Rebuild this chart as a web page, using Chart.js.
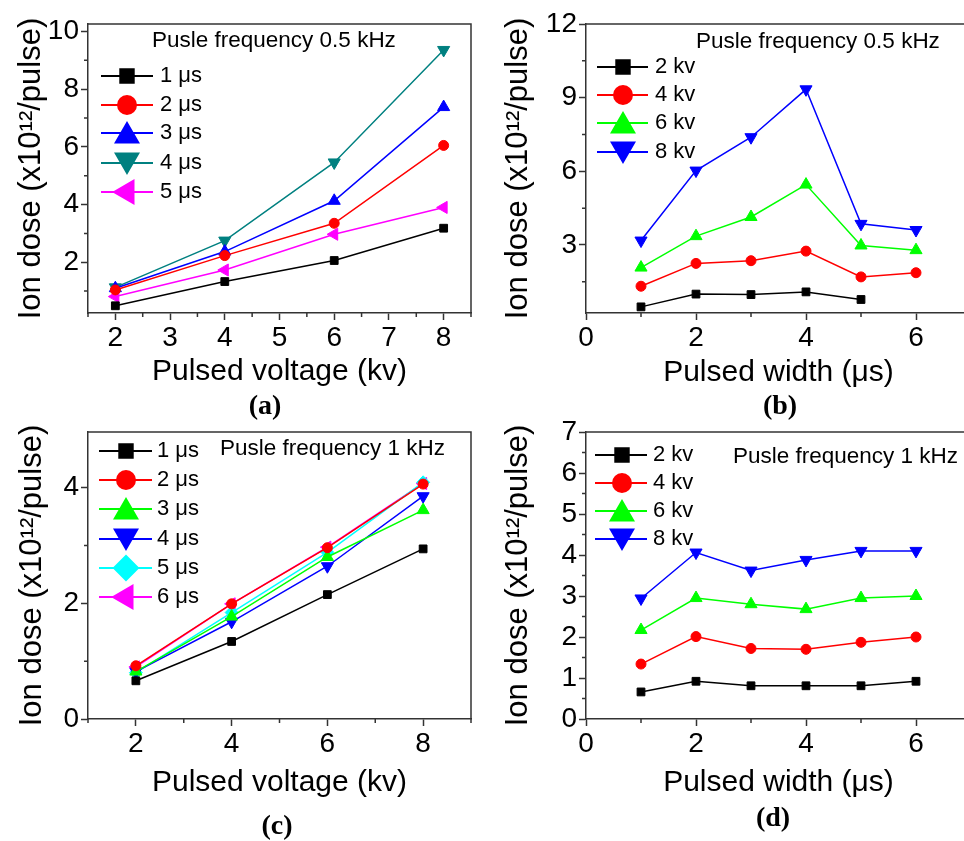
<!DOCTYPE html>
<html>
<head>
<meta charset="utf-8">
<script src="https://cdn.jsdelivr.net/npm/chart.js@4.4.1/dist/chart.umd.min.js"></script>
<style>
    html, body { margin: 0; padding: 0; background: #fff; overflow: hidden; width: 964px; height: 841px; }
    .wrap { position: absolute; left: 0; top: 0; width: 964px; height: 841px; overflow: hidden; }
    canvas { position: absolute; }
    .tag { position: absolute; font: bold 28px "Liberation Serif", "Times New Roman", serif; transform: translate(-50%, -50%); color: #000; }
</style>
</head>
<body>
<div class="wrap">
<canvas id="pa" width="480" height="420" style="left:0;top:0"></canvas>
<canvas id="pb" width="500" height="420" style="left:480px;top:0"></canvas>
<canvas id="pc" width="480" height="421" style="left:0;top:420px"></canvas>
<canvas id="pd" width="500" height="421" style="left:480px;top:420px"></canvas>
<div class="tag" style="left:265px;top:405px">(a)</div>
<div class="tag" style="left:780px;top:405px">(b)</div>
<div class="tag" style="left:277px;top:825px">(c)</div>
<div class="tag" style="left:773px;top:817px">(d)</div>
</div>
<script>
// x values
const voltage = [2, 4, 6, 8];
const pulseWidth = [1, 2, 3, 4, 5, 6];

// (a) 0.5 kHz, dose vs voltage
const a1us = [0.49, 1.33, 2.06, 3.18];
const a2us = [1.04, 2.23, 3.35, 6.05];
const a3us = [1.10, 2.37, 4.13, 7.38];
const a4us = [1.13, 2.75, 5.46, 9.36];
const a5us = [0.81, 1.73, 2.97, 3.90];

// (b) 0.5 kHz, dose vs width
const b2kv = [0.48, 1.00, 0.98, 1.09, 0.78, null];
const b4kv = [1.32, 2.25, 2.36, 2.75, 1.70, 1.87];
const b6kv = [2.08, 3.36, 4.14, 5.46, 2.98, 2.79];
const b8kv = [3.18, 6.03, 7.39, 9.34, 3.86, 3.61];

// (c) 1 kHz, dose vs voltage
const c1us = [0.66, 1.34, 2.15, 2.94];
const c2us = [0.92, 1.99, 2.96, 4.06];
const c3us = [0.82, 1.77, 2.80, 3.61];
const c4us = [0.82, 1.68, 2.64, 3.85];
const c5us = [0.80, 1.84, 2.88, 4.09];
const c6us = [0.90, 1.99, 2.97, 4.07];

// (d) 1 kHz, dose vs width
const d2kv = [0.66, 0.92, 0.81, 0.81, 0.81, 0.92];
const d4kv = [1.34, 2.01, 1.72, 1.70, 1.87, 2.00];
const d6kv = [2.17, 2.95, 2.80, 2.68, 2.95, 3.00];
const d8kv = [2.94, 4.06, 3.62, 3.88, 4.10, 4.10];

// ticks
const aXTicks = [2, 3, 4, 5, 6, 7, 8];
const aXMinor = [1.5, 2.5, 3.5, 4.5, 5.5, 6.5, 7.5, 8.5];
const aYTicks = [2, 4, 6, 8, 10];
const aYMinor = [1, 3, 5, 7, 9];
const bXTicks = [0, 2, 4, 6];
const bXMinor = [1, 3, 5];
const bYTicks = [3, 6, 9, 12];
const bYMinor = [1.5, 4.5, 7.5, 10.5];
const cXTicks = [2, 4, 6, 8];
const cXMinor = [1, 3, 5, 7, 9];
const cYTicks = [0, 2, 4];
const cYMinor = [1, 3, 5];
const dXTicks = [0, 2, 4, 6];
const dXMinor = [1, 3, 5];
const dYTicks = [0, 1, 2, 3, 4, 5, 6, 7];
const dYMinor = [0.5, 1.5, 2.5, 3.5, 4.5, 5.5, 6.5];

const FONT = '"Liberation Sans", Arial, sans-serif';
const yTitle = 'Ion dose (x10\u00B9\u00B2/pulse)';

// marker styles
const SQ = { style: 'rect', rot: 0, r: 5.5, lr: 9.5 };
const CI = { style: 'circle', rot: 0, r: 5, lr: 9 };
const TU = { style: 'triangle', rot: 0, r: 7, lr: 13 };
const TD = { style: 'triangle', rot: 180, r: 7, lr: 13 };
const DI = { style: 'rectRot', rot: 0, r: 6.5, lr: 12 };
const TL = { style: 'triangle', rot: -90, r: 7, lr: 13 };

function toPoints(xs, ys) {
    return xs.map((x, i) => ({ x: x, y: ys[i] }));
}

// frame, minor ticks, legend and frequency label
const decor = {
    id: 'decor',
    afterDraw(chart, args, opts) {
        const ctx = chart.ctx;
        const area = chart.chartArea;
        const xs = chart.scales.x, ys = chart.scales.y;
        ctx.save();
        ctx.strokeStyle = '#333';
        ctx.lineWidth = 1.5;
        ctx.beginPath();
        ctx.moveTo(area.left, area.top);
        ctx.lineTo(area.right, area.top);
        if (opts.rightEdge) {
            ctx.lineTo(area.right, area.bottom);
        }
        ctx.stroke();
        ctx.beginPath();
        opts.xMinor.forEach(v => {
            const px = xs.getPixelForValue(v);
            ctx.moveTo(px, area.bottom);
            ctx.lineTo(px, area.bottom + 4);
        });
        opts.yMinor.forEach(v => {
            const py = ys.getPixelForValue(v);
            if (py < area.top - 1) return;
            ctx.moveTo(area.left, py);
            ctx.lineTo(area.left - 4, py);
        });
        ctx.stroke();

        const lg = opts.legend;
        chart.data.datasets.forEach((ds, i) => {
            const y = lg.rows[i];
            ctx.strokeStyle = ds.borderColor;
            ctx.fillStyle = ds.borderColor;
            ctx.lineWidth = 2;
            ctx.beginPath();
            ctx.moveTo(lg.x0, y);
            ctx.lineTo(lg.x1, y);
            ctx.stroke();
            let dy = 0;
            if (ds.pointStyle === 'triangle' && ds.pointRotation === 0) dy = 3;
            if (ds.pointStyle === 'triangle' && ds.pointRotation === 180) dy = -3;
            Chart.helpers.drawPoint(ctx, {
                pointStyle: ds.pointStyle, radius: ds.legendRadius,
                rotation: ds.pointRotation, borderWidth: 1
            }, lg.xm, y + dy);
            ctx.fillStyle = '#000';
            ctx.font = '22px ' + FONT;
            ctx.textBaseline = 'middle';
            ctx.textAlign = 'left';
            ctx.fillText(ds.label, lg.xt, y);
        });
        ctx.font = '22.5px ' + FONT;
        ctx.fillStyle = '#000';
        ctx.textBaseline = 'middle';
        ctx.fillText(opts.freq.text, opts.freq.x, opts.freq.y);
        ctx.restore();
    }
};

function makePanel(id, p) {
    const datasets = p.series.map(s => ({
        label: s.label,
        data: toPoints(p.xs, s.data),
        borderColor: s.color,
        backgroundColor: s.color,
        borderWidth: 1.5,
        pointStyle: s.m.style,
        pointRotation: s.m.rot,
        pointRadius: s.m.r,
        pointBackgroundColor: s.color,
        pointBorderColor: s.color,
        pointBorderWidth: 1,
        legendRadius: s.m.lr,
        tension: 0
    }));

    new Chart(document.getElementById(id), {
        type: 'line',
        data: { datasets: datasets },
        options: {
            responsive: false,
            animation: false,
            layout: { padding: { top: p.padTop, right: 9, left: 0, bottom: 0 } },
            plugins: {
                legend: { display: false },
                tooltip: { enabled: false },
                decor: { xMinor: p.xMinor, yMinor: p.yMinor, legend: p.legend, freq: p.freq, rightEdge: p.rightEdge }
            },
            scales: {
                x: {
                    type: 'linear',
                    min: p.xRange[0],
                    max: p.xRange[1],
                    afterFit: s => { s.height = p.xAxisH; },
                    afterBuildTicks: s => { s.ticks = p.xTicks.map(v => ({ value: v })); },
                    ticks: { font: { family: FONT, size: 28, lineHeight: 1 }, color: '#000', padding: 4, maxRotation: 0, autoSkip: false },
                    grid: { drawOnChartArea: false, tickLength: 7, tickWidth: 1.5, tickColor: '#333' },
                    border: { display: true, color: '#333', width: 1.5 },
                    title: { display: true, text: p.xTitle, color: '#000', font: { family: FONT, size: 30, lineHeight: 1 }, padding: { top: 0, bottom: p.xTitlePad } }
                },
                y: {
                    type: 'linear',
                    min: p.yRange[0],
                    max: p.yRange[1],
                    afterFit: s => { s.width = p.yAxisW; s.paddingTop = 0; s.paddingBottom = 0; },
                    afterBuildTicks: s => { s.ticks = p.yTicks.map(v => ({ value: v })); },
                    ticks: { font: { family: FONT, size: 28, lineHeight: 1 }, color: '#000', padding: 2, autoSkip: false },
                    grid: { drawOnChartArea: false, tickLength: 7, tickWidth: 1.5, tickColor: '#333' },
                    border: { display: true, color: '#333', width: 1.5 },
                    title: { display: true, text: yTitle, color: '#000', font: { family: FONT, size: 31, lineHeight: 1 }, padding: { top: p.yTitlePad, bottom: 0 } }
                }
            }
        },
        plugins: [decor]
    });
}

makePanel('pa', {
    xs: voltage,
    series: [
        { label: '1 \u03BCs', data: a1us, color: '#000000', m: SQ },
        { label: '2 \u03BCs', data: a2us, color: '#ff0000', m: CI },
        { label: '3 \u03BCs', data: a3us, color: '#0000ff', m: TU },
        { label: '4 \u03BCs', data: a4us, color: '#008080', m: TD },
        { label: '5 \u03BCs', data: a5us, color: '#ff00ff', m: TL }
    ],
    xRange: [1.5, 8.5], yRange: [0.24, 10.26],
    xTicks: aXTicks, xMinor: aXMinor, yTicks: aYTicks, yMinor: aYMinor,
    xTitle: 'Pulsed voltage (kv)', rightEdge: true,
    padTop: 24, yAxisW: 88, xAxisH: 107, yTitlePad: 16, xTitlePad: 33,
    legend: { x0: 101, x1: 153, xm: 127, xt: 160, rows: [76, 105, 133, 163, 192] },
    freq: { text: 'Pusle frequency 0.5 kHz', x: 152, y: 41 }
});

makePanel('pb', {
    xs: pulseWidth,
    series: [
        { label: '2 kv', data: b2kv, color: '#000000', m: SQ },
        { label: '4 kv', data: b4kv, color: '#ff0000', m: CI },
        { label: '6 kv', data: b6kv, color: '#00ff00', m: TU },
        { label: '8 kv', data: b8kv, color: '#0000ff', m: TD }
    ],
    xRange: [0, 7], yRange: [0.23, 12],
    xTicks: bXTicks, xMinor: bXMinor, yTicks: bYTicks, yMinor: bYMinor,
    xTitle: 'Pulsed width (\u03BCs)', rightEdge: false,
    padTop: 24, yAxisW: 106, xAxisH: 107, yTitlePad: 23, xTitlePad: 32,
    legend: { x0: 117, x1: 168, xm: 143, xt: 175, rows: [67, 95, 123, 152] },
    freq: { text: 'Pusle frequency 0.5 kHz', x: 216, y: 42 }
});

makePanel('pc', {
    xs: voltage,
    series: [
        { label: '1 \u03BCs', data: c1us, color: '#000000', m: SQ },
        { label: '2 \u03BCs', data: c2us, color: '#ff0000', m: CI },
        { label: '3 \u03BCs', data: c3us, color: '#00ff00', m: TU },
        { label: '4 \u03BCs', data: c4us, color: '#0000ff', m: TD },
        { label: '5 \u03BCs', data: c5us, color: '#00ffff', m: DI },
        { label: '6 \u03BCs', data: c6us, color: '#ff00ff', m: TL }
    ],
    xRange: [1, 9], yRange: [0, 4.96],
    xTicks: cXTicks, xMinor: cXMinor, yTicks: cYTicks, yMinor: cYMinor,
    xTitle: 'Pulsed voltage (kv)', rightEdge: true,
    padTop: 12, yAxisW: 88, xAxisH: 122, yTitlePad: 17, xTitlePad: 43,
    legend: { x0: 99, x1: 152, xm: 126, xt: 157, rows: [31, 60, 89, 119, 148, 177] },
    freq: { text: 'Pusle frequency 1 kHz', x: 220, y: 29 }
});

makePanel('pd', {
    xs: pulseWidth,
    series: [
        { label: '2 kv', data: d2kv, color: '#000000', m: SQ },
        { label: '4 kv', data: d4kv, color: '#ff0000', m: CI },
        { label: '6 kv', data: d6kv, color: '#00ff00', m: TU },
        { label: '8 kv', data: d8kv, color: '#0000ff', m: TD }
    ],
    xRange: [0, 7], yRange: [0, 7],
    xTicks: dXTicks, xMinor: dXMinor, yTicks: dYTicks, yMinor: dYMinor,
    xTitle: 'Pulsed width (\u03BCs)', rightEdge: false,
    padTop: 12, yAxisW: 106, xAxisH: 122, yTitlePad: 23, xTitlePad: 43,
    legend: { x0: 115, x1: 167, xm: 142, xt: 173, rows: [35, 63, 91, 119] },
    freq: { text: 'Pusle frequency 1 kHz', x: 253, y: 37 }
});
</script>
</body>
</html>
